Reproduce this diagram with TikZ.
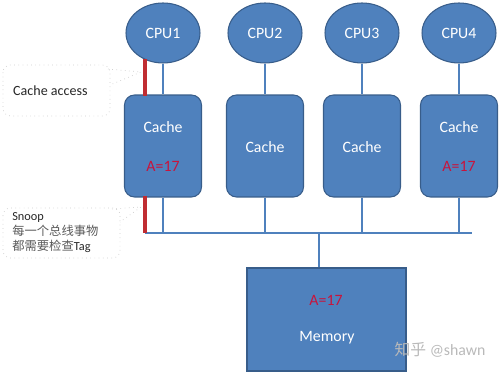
\documentclass[tikz,border=0pt]{standalone}
\usepackage{fontspec}
\setmainfont{Carlito}
\newfontfamily\cjk{Noto Sans CJK SC}
\usetikzlibrary{shapes.geometric,positioning}
\definecolor{boxblue}{RGB}{79,129,189}
\definecolor{edgeblue}{RGB}{56,93,138}
\definecolor{accred}{RGB}{192,45,50}
\definecolor{valred}{RGB}{200,20,60}

\begin{document}
\begin{tikzpicture}[x=0.02cm, y=-0.02cm,
    every node/.style={font=\fontsize{9}{10}\selectfont},
    cpunode/.style={ellipse, fill=boxblue, draw=edgeblue, semithick, minimum width=1.48cm, minimum height=1.2cm, inner sep=0pt, text=white},
    cachebox/.style={rectangle, rounded corners=0.2cm, fill=boxblue, draw=edgeblue, semithick, minimum width=1.54cm, minimum height=2.04cm},
    membox/.style={rectangle, fill=boxblue, draw=edgeblue, semithick, minimum width=3.18cm, minimum height=2.06cm},
    celltext/.style={text=white},
    valtext/.style={text=valred},
    busline/.style={draw=boxblue, line width=1.5pt},
    accline/.style={draw=accred, line width=2.8pt},
    callout/.style={draw=gray!40, dotted, thin},
    notetext/.style={font=\fontsize{8}{9}\selectfont, text=black!85}]
    \useasboundingbox (0,0) rectangle (500,374);
    % processors
    \node[cpunode] (cpu1) at (163,33) {CPU1};
    \node[cpunode] (cpu2) at (265,33) {CPU2};
    \node[cpunode] (cpu3) at (362,33) {CPU3};
    \node[cpunode] (cpu4) at (459,33) {CPU4};
    % caches
    \node[cachebox] (cache1) at (163,146) {};
    \node[cachebox] (cache2) at (265,146) {};
    \node[cachebox] (cache3) at (362,146) {};
    \node[cachebox] (cache4) at (459,146) {};
    \node[celltext] (cache1name) at (163,127) {Cache};
    \node[valtext] (cache1val) at (163,166) {A=17};
    \node[celltext] (cache2name) at (265,147) {Cache};
    \node[celltext] (cache3name) at (362,147) {Cache};
    \node[celltext] (cache4name) at (459,127) {Cache};
    \node[valtext] (cache4val) at (459,166) {A=17};
    % memory
    \node[membox] (mem) at (326.5,319.5) {};
    \node[valtext] (memval) at (326,300) {A=17};
    \node[celltext] (memname) at (327,338) {Memory};
    % bus
    \coordinate (busL) at (145,233);
    \coordinate (busR) at (472,233);
    \coordinate (memtap) at (319,233);
    \draw[busline] (busL) -- (busR);
    \draw[busline] (memtap) -- (memtap |- mem.north);
    \foreach \i in {1,2,3,4} {
        \draw[busline] (cpu\i) -- (cache\i);
        \draw[busline] (cache\i.south) -- (cache\i.south |- busL);
    }
    % access and snoop paths
    \coordinate (acctop) at (145,59);
    \coordinate (snptop) at (145,196);
    \draw[accline] (acctop) -- ([yshift=-1pt]acctop |- cache1.north);
    \draw[accline] (snptop) -- (snptop |- busL);
    % callouts
    \draw[callout, rounded corners=0.15cm] (3,65) rectangle (110,116);
    \draw[callout] (108,69) -- (141,72) -- (110,85);
    \node[notetext, anchor=west] (acctxt) at (7,91) {Cache access};
    \draw[callout, rounded corners=0.15cm] (3,208) rectangle (120,258);
    \draw[callout] (112,209) -- (141,207) -- (120,222);
    \node[notetext, anchor=north west, align=left, inner sep=0pt,
          font=\fontsize{7}{8.6}\selectfont] (snptxt) at (12,212)
        {Snoop\\{\cjk\color{black!65}每一个总线事物}\\{\cjk\color{black!65}都需要检查}Tag};
    % watermark
    \node[text=gray!55, font=\fontsize{9}{10}\selectfont] (mark) at (440,350) {{\cjk 知乎} @shawn};
\end{tikzpicture}
\end{document}
